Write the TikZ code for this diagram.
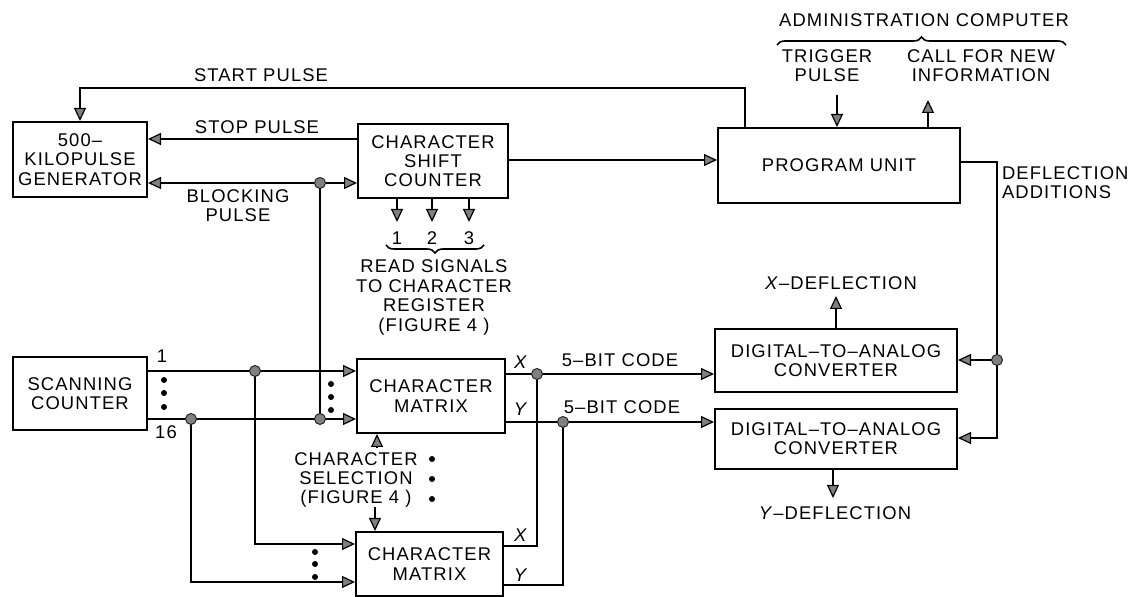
\documentclass[tikz,border=0pt]{standalone}
\usepackage{fontspec}
\setmainfont{Liberation Sans}[LetterSpace=6]
\usetikzlibrary{arrows.meta,decorations.pathreplacing}
\begin{document}
\begin{tikzpicture}[x=0.5pt,y=-0.5pt,
  line width=1pt,
  every node/.style={font=\fontsize{9.2}{9.6}\selectfont},
  blk/.style={draw, align=center, inner sep=0pt},
  lbl/.style={align=center, inner sep=0pt},
  arr/.style={-{Triangle[length=6.5pt,width=6pt,fill=black!50,line width=0.6pt]}},
  jdot/.style={circle, draw=black!85, fill=black!50, line width=0.5pt, inner sep=0pt, minimum size=5.5pt},
  edot/.style={circle, fill=black, inner sep=0pt, minimum size=3pt},
  brc/.style={decorate, decoration={brace, amplitude=4pt}, line width=0.8pt}]
\useasboundingbox (0,0) rectangle (1148,597);

% boxes
\node[blk, minimum width=67pt, minimum height=37.5pt] (gen) at (80,159.5) {500--\\KILOPULSE\\GENERATOR};
\node[blk, minimum width=67pt, minimum height=36.5pt] (sc) at (80,393.5) {SCANNING\\COUNTER};
\node[blk, minimum width=75pt, minimum height=37pt] (csc) at (433,161) {CHARACTER\\SHIFT\\COUNTER};
\node[blk, minimum width=121pt, minimum height=37.5pt] (pu) at (839,165.5) {PROGRAM UNIT};
\node[blk, minimum width=121pt, minimum height=31.5pt] (dac1) at (836,360.5) {DIGITAL--TO--ANALOG\\CONVERTER};
\node[blk, minimum width=121pt, minimum height=30pt] (dac2) at (836,439) {DIGITAL--TO--ANALOG\\CONVERTER};
\node[blk, minimum width=74pt, minimum height=37pt] (cm1) at (431,396) {CHARACTER\\MATRIX};
\node[blk, minimum width=73.5pt, minimum height=32pt] (cm2) at (429.5,564) {CHARACTER\\MATRIX};

% start / stop / blocking
\draw[arr] (pu.north -| 745,0) |- (gen.north |- 0,88) -- (gen.north);
\node[lbl] (lstart) at (261,75) {START PULSE};
\draw[arr] (csc.west |- 0,139) -- (gen.east |- 0,139);
\node[lbl] (lstop) at (257,127) {STOP PULSE};
\coordinate (bj) at (320,183);
\draw[arr] (bj) -- (gen.east |- bj);
\draw[arr] (bj) -- (csc.west |- bj);
\node[lbl] (lblock) at (238,206) {BLOCKING\\PULSE};
\coordinate (b16) at (320,419);
\draw (bj) -- (b16);

% csc outputs
\draw[arr] (csc.east |- 0,160) -- (pu.west |- 0,160);
\draw[arr] (csc.south -| 397,0) -- (397,222);
\draw[arr] (csc.south -| 432,0) -- (432,222);
\draw[arr] (csc.south -| 469,0) -- (469,222);
\node[lbl] (n1) at (397,238) {1};
\node[lbl] (n2) at (432,238) {2};
\node[lbl] (n3) at (469,238) {3};
\draw[brc] (484,245) -- (386,245);
\node[lbl, font=\fontsize{9.2}{9.8}\selectfont] (lread) at (434,297.5) {READ SIGNALS\\TO CHARACTER\\REGISTER\\(FIGURE 4 )};

% administration computer
\node[lbl] (ladmin) at (924,20) {ADMINISTRATION COMPUTER};
\draw[brc] (777,45) -- (1066,45);
\node[lbl] (ltrig) at (827,66) {TRIGGER\\PULSE};
\node[lbl] (lcall) at (981,66) {CALL FOR NEW\\INFORMATION};
\coordinate (tt) at (837,95);
\draw[arr] (tt) -- (tt |- pu.north);
\coordinate (ct) at (928,100);
\draw[arr] (ct |- pu.north) -- (ct);

% deflection additions
\coordinate (dj) at (997,360);
\draw (pu.east |- 0,162) -| (dj);
\draw[arr] (dj) -- (dac1.east |- dj);
\draw[arr] (dj) |- (dac2.east |- 0,438);
\node[lbl, align=left, anchor=west] (ldefl) at (1001,183) {DEFLECTION\\ADDITIONS};

% deflection outputs
\draw[arr] (dac1.north -| 836,0) -- (836,296);
\node[lbl] (lxd) at (841,283) {\textit{X}--DEFLECTION};
\draw[arr] (dac2.south -| 833,0) -- (833,498);
\node[lbl] (lyd) at (835,513) {\textit{Y}--DEFLECTION};

% scanning counter outputs
\coordinate (s1) at (255,371);
\coordinate (s16) at (191,419);
\draw[arr] (sc.east |- s1) -- (cm1.west |- s1);
\draw[arr] (sc.east |- s16) -- (cm1.west |- s16);
\draw[arr] (s1) |- (cm2.west |- 0,544);
\draw[arr] (s16) |- (cm2.west |- 0,582);
\node[lbl] (l1) at (162,356) {1};
\node[lbl] (l16) at (166,432) {16};
\node[edot] (d1) at (164,380) {};
\node[edot] (d2) at (164,393) {};
\node[edot] (d3) at (164,407) {};
\node[edot] (d4) at (331,384) {};
\node[edot] (d5) at (331,397) {};
\node[edot] (d6) at (331,410) {};
\node[edot] (d7) at (315,552) {};
\node[edot] (d8) at (315,564) {};
\node[edot] (d9) at (315,577) {};

% matrix outputs
\coordinate (jx) at (537,374);
\coordinate (jy) at (563,422);
\draw (cm1.east |- jx) -- (jx);
\draw[arr] (jx) -- (dac1.west |- jx);
\draw[arr] (cm1.east |- jy) -- (dac2.west |- jy);
\draw (jx) |- (cm2.east |- 0,546);
\draw (jy) |- (cm2.east |- 0,585);
\node[lbl] (lx1) at (521,362) {\textit{X}};
\node[lbl] (ly1) at (521,409) {\textit{Y}};
\node[lbl] (lx2) at (521,535) {\textit{X}};
\node[lbl] (ly2) at (521,575) {\textit{Y}};
\node[lbl] (lc1) at (620,360) {5--BIT CODE};
\node[lbl] (lc2) at (622,407) {5--BIT CODE};

% character selection
\node[lbl] (lsel) at (356,480) {CHARACTER\\SELECTION\\(FIGURE 4 )};
\node[edot] (d10) at (432,459) {};
\node[edot] (d11) at (432,479) {};
\node[edot] (d12) at (432,499) {};
\draw[arr] (377,448) -- (cm1.south -| 377,0);
\draw[arr] (375,507) -- (cm2.north -| 375,0);

% junction dots
\node[jdot] (jbj) at (bj) {};
\node[jdot] (jb16) at (b16) {};
\node[jdot] (js1) at (s1) {};
\node[jdot] (js16) at (s16) {};
\node[jdot] (jjx) at (jx) {};
\node[jdot] (jjy) at (jy) {};
\node[jdot] (jdj) at (dj) {};
\end{tikzpicture}
\end{document}
